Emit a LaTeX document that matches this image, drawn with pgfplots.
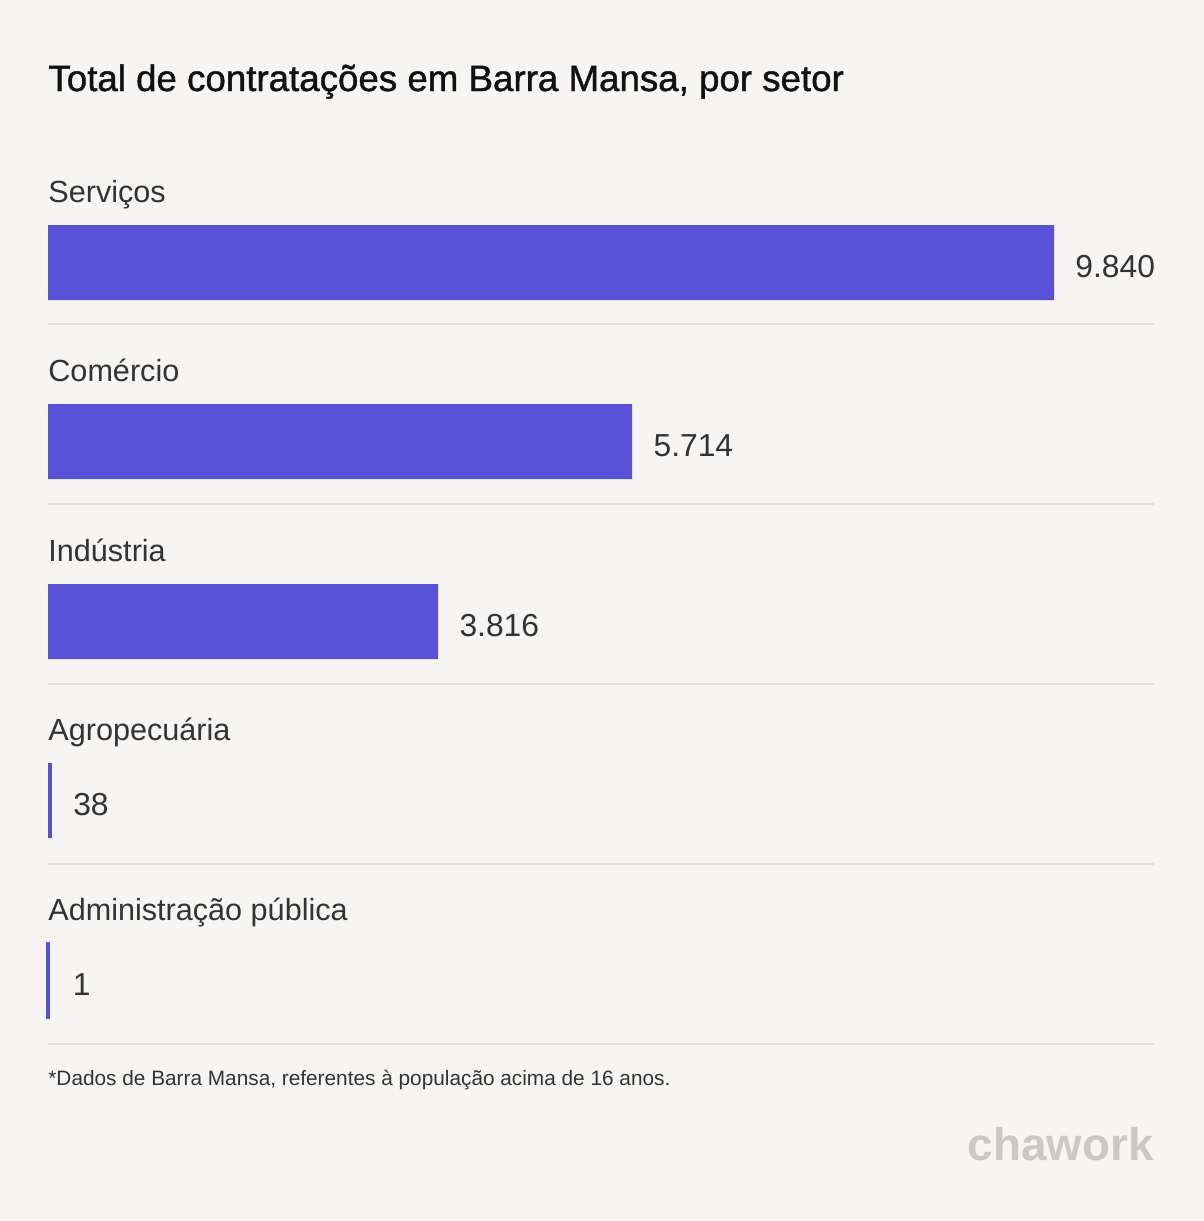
\documentclass[border=0pt]{standalone}
\usepackage{fontspec}
\setmainfont{Liberation Sans}
\newfontfamily\titlefont[FakeBold=1.2]{Liberation Sans}
\usepackage{pgfplots}
\pgfplotsset{compat=1.18}
\definecolor{bgc}{HTML}{F6F5F3}
\definecolor{barc}{HTML}{5951D5}
\definecolor{txt}{HTML}{333333}
\definecolor{ttl}{HTML}{111111}
\definecolor{sepc}{HTML}{E3E1DE}
\definecolor{logoc}{HTML}{CCC9C3}
\begin{document}
\begin{tikzpicture}
\begin{axis}[
  scale only axis, width=602pt, height=610.5pt,
  xmin=-469.5, xmax=11307.2, ymin=0, ymax=1221, y dir=reverse,
  axis lines=none, ticks=none, clip=false,
  axis background/.style={fill=bgc},
  /pgf/number format/1000 sep={.},
  /pgf/number format/assume math mode=true,
]
% separators
\draw[sepc, line width=1pt] (axis cs:0,324) -- (axis cs:10818.13,324);
\draw[sepc, line width=1pt] (axis cs:0,504) -- (axis cs:10818.13,504);
\draw[sepc, line width=1pt] (axis cs:0,684) -- (axis cs:10818.13,684);
\draw[sepc, line width=1pt] (axis cs:0,864) -- (axis cs:10818.13,864);
\draw[sepc, line width=1pt] (axis cs:0,1044) -- (axis cs:10818.13,1044);
% bars
\addplot[xbar, bar shift=0pt, bar width=37.5pt, fill=barc, draw=none,
  nodes near coords, point meta=x,
  nodes near coords style={anchor=west, inner sep=0pt, xshift=10.5pt, yshift=-2pt,
    font=\fontsize{15.9}{18}\selectfont, text=txt}]
  coordinates {(9840,262.5) (5714,441.5) (3816,621.5) (38,800.5)};
\addplot[xbar, bar shift=0pt, bar width=36.6pt, fill=barc, draw=barc, line width=1.8pt,
  nodes near coords, point meta=x,
  nodes near coords style={anchor=west, inner sep=0pt, xshift=11.5pt, yshift=-2pt,
    font=\fontsize{15.9}{18}\selectfont, text=txt}]
  coordinates {(1,980.5)};
% category labels
\node[anchor=base west, inner sep=0pt, font=\fontsize{15.3}{18}\selectfont, text=txt] at (axis cs:0,202) {Serviços};
\node[anchor=base west, inner sep=0pt, font=\fontsize{15.3}{18}\selectfont, text=txt] at (axis cs:0,381) {Comércio};
\node[anchor=base west, inner sep=0pt, font=\fontsize{15.3}{18}\selectfont, text=txt] at (axis cs:0,561) {Indústria};
\node[anchor=base west, inner sep=0pt, font=\fontsize{15.3}{18}\selectfont, text=txt] at (axis cs:0,740) {Agropecuária};
\node[anchor=base west, inner sep=0pt, font=\fontsize{15.3}{18}\selectfont, text=txt] at (axis cs:0,920) {Administração pública};
% title
\node[anchor=base west, inner sep=0pt, font=\titlefont\fontsize{18.35}{22}\selectfont, text=ttl] at (axis cs:0,91) {Total de contratações em Barra Mansa, por setor};
% footnote
\node[anchor=base west, inner sep=0pt, font=\fontsize{10.4}{12}\selectfont, text=txt] at (axis cs:0,1085) {*Dados de Barra Mansa, referentes à população acima de 16 anos.};
% logo
\node[anchor=base east, inner sep=0pt, font=\bfseries\fontsize{22.9}{26}\selectfont, text=logoc] at (axis cs:10818.13,1160) {chawork};
\end{axis}
\end{tikzpicture}
\end{document}
